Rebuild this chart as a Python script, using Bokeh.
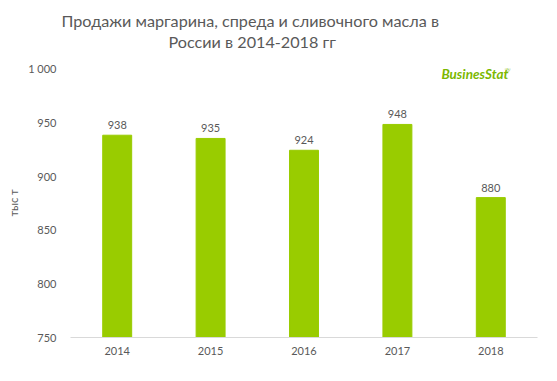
from bokeh.plotting import figure
from bokeh.models import ColumnDataSource, FixedTicker, Label, Title
from bokeh.core.properties import value
from bokeh.embed import file_html
from bokeh.resources import INLINE

years = ["2014", "2015", "2016", "2017", "2018"]
sales = [938, 935, 924, 948, 880]
y_ticks = [750, 800, 850, 900, 950, 1000]
y_tick_labels = {750: "750", 800: "800", 850: "850", 900: "900", 950: "950", 1000: "1 000"}
title_lines = ["Продажи маргарина, спреда и сливочного масла в", "России в 2014-2018 гг"]

FONT = "Lato"
GRAY = "#595959"
GREEN = "#99CC00"

src = ColumnDataSource(dict(year=years, sales=sales, label=[str(v) for v in sales]))

p = figure(x_range=years, y_range=(750, 1000), width=541, height=365,
           output_backend="svg", toolbar_location=None,
           min_border_left=70, min_border_right=4, min_border_top=68, min_border_bottom=28)
p.outline_line_color = None
p.background_fill_color = "white"
p.border_fill_color = "white"
p.xgrid.grid_line_color = None
p.ygrid.grid_line_color = None

p.vbar(x="year", top="sales", bottom=750, width=0.31, color=GREEN, source=src)
p.text(x="year", y="sales", text="label", source=src, text_align="center",
       text_baseline="bottom", y_offset=-6, text_font=value(FONT),
       text_font_size="11px", text_color=GRAY)

# axes
p.xaxis.axis_line_color = "#D9D9D9"
p.xaxis.major_tick_line_color = None
p.xaxis.minor_tick_line_color = None
p.xaxis.major_tick_out = 0
p.xaxis.major_label_standoff = 9
p.xaxis.major_label_text_font = FONT
p.xaxis.major_label_text_font_size = "11px"
p.xaxis.major_label_text_color = GRAY

p.yaxis.ticker = FixedTicker(ticks=y_ticks)
p.yaxis.major_label_overrides = y_tick_labels
p.yaxis.axis_line_color = None
p.yaxis.major_tick_line_color = None
p.yaxis.minor_tick_line_color = None
p.yaxis.major_tick_out = 0
p.yaxis.major_label_standoff = 14
p.yaxis.major_label_text_font = FONT
p.yaxis.major_label_text_font_size = "11px"
p.yaxis.major_label_text_color = GRAY
p.yaxis.axis_label = "тыс т"
p.yaxis.axis_label_text_font = FONT
p.yaxis.axis_label_text_font_size = "11px"
p.yaxis.axis_label_text_font_style = "normal"
p.yaxis.axis_label_text_color = GRAY
p.yaxis.axis_label_standoff = 5

# spacer between frame and title
p.add_layout(Title(text=" ", text_font_size="1px", standoff=15), "above")
# title lines (closest to frame first)
p.add_layout(Title(text=title_lines[1], align="left", offset=98, standoff=0,
                   text_font=FONT, text_font_size="16.2px", text_font_style="normal",
                   text_color=GRAY), "above")
p.add_layout(Title(text=title_lines[0], align="left", offset=-9, standoff=0,
                   text_font=FONT, text_font_size="16.2px", text_font_style="normal",
                   text_color=GRAY), "above")

# logo
logo = Label(x=4.33, y=995, text="BusinesStat", text_font=FONT, text_font_size="13.5px",
             text_font_style="bold italic", text_color="#7CB800",
             text_align="center", text_baseline="middle")
p.add_layout(logo)
reg = Label(x=4.68, y=1000, text="®", text_font=FONT, text_font_size="7px",
            text_color="#7CB800", text_align="center", text_baseline="middle")
p.add_layout(reg)

open("out.html", "w").write(file_html(p, INLINE))
